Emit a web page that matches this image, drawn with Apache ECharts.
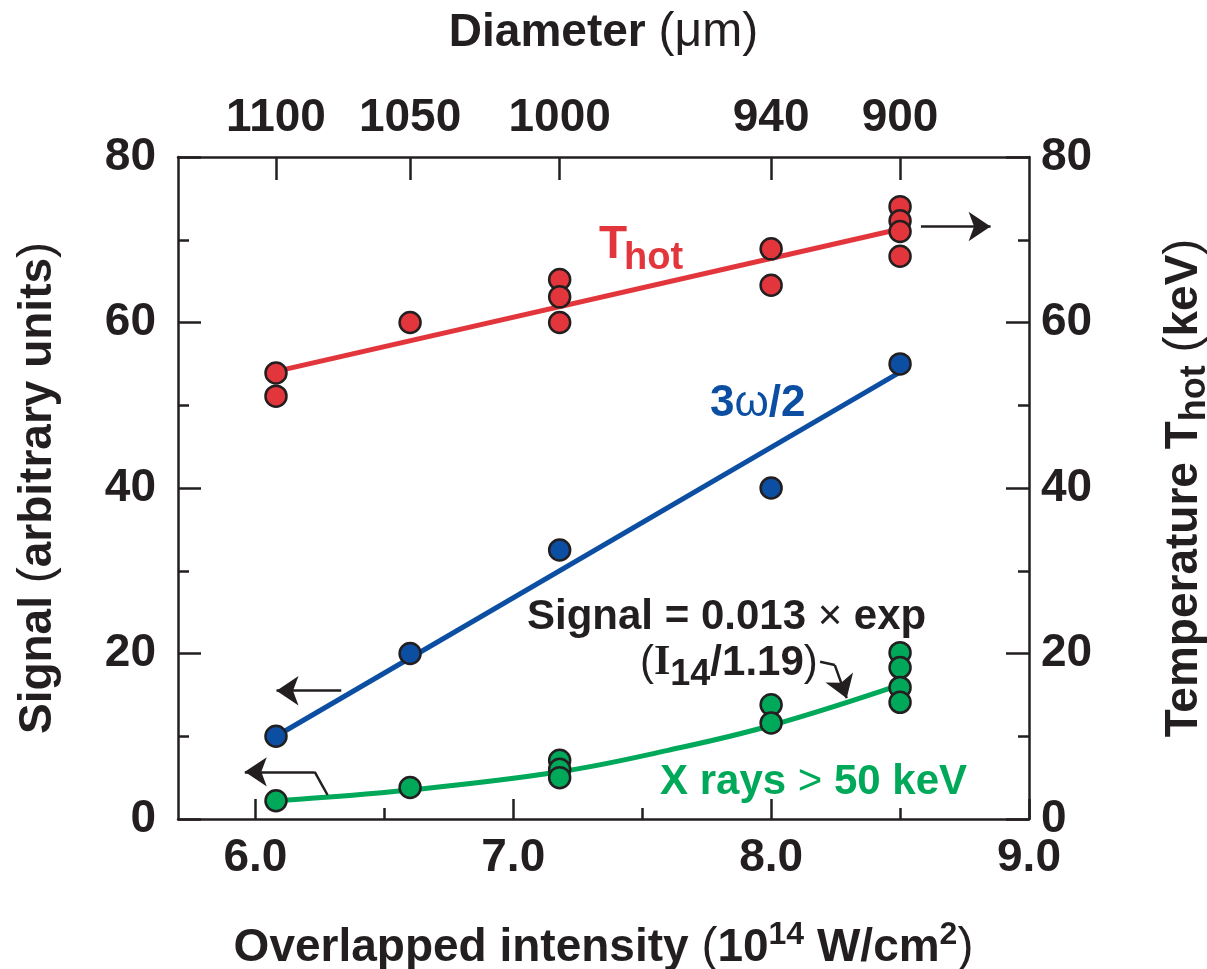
<!DOCTYPE html>
<html>
<head>
<meta charset="utf-8">
<script src="https://cdn.jsdelivr.net/npm/echarts@6/dist/echarts.min.js"></script>
<style>
  html, body { margin: 0; padding: 0; background: #fff; }
  #main { width: 1207px; height: 969px; }
</style>
</head>
<body>
<div id="main"></div>
<script>
// measured points
const thotX = [6.08, 6.08, 6.6, 7.18, 7.18, 7.18, 8.0, 8.0, 8.5, 8.5, 8.5, 8.5];
const thotY = [53.9, 51.1, 60.0, 65.2, 63.1, 60.0, 68.9, 64.5, 74.0, 72.3, 71.0, 68.0];
const omegaX = [6.08, 6.6, 7.18, 8.0, 8.5];
const omegaY = [10.0, 20.0, 32.5, 40.0, 55.0];
const xrayX = [6.08, 6.6, 7.18, 7.18, 7.18, 8.0, 8.0, 8.5, 8.5, 8.5, 8.5];
const xrayY = [2.2, 3.8, 7.1, 6.0, 5.0, 13.8, 11.6, 20.1, 18.3, 15.9, 14.1];

// fit lines
const thotFitX = [6.08, 8.5];
const thotFitY = [54.1, 71.3];
const omegaFitX = [6.08, 8.5];
const omegaFitY = [10.0, 54.0];
const xrayFitX = [6.08, 6.6, 7.18, 7.6, 8.0, 8.5];
const xrayFitY = [2.2, 3.5, 5.7, 8.3, 11.3, 16.2];

// axes
const majorX = [6, 7, 8, 9];
const minorX = [6.5, 7.5, 8.5];
const diamPos = [6.08, 6.6, 7.18, 8.0, 8.5];
const diamLabels = ['1100', '1050', '1000', '940', '900'];

const RED = '#e2363c', BLUE = '#0b4ea2', GREEN = '#00a85a', INK = '#231f20';
const FONT = 'Liberation Sans';

const pairs = (xs, ys) => xs.map((x, i) => [x, ys[i]]);

const chart = echarts.init(document.getElementById('main'));

const axisLine = { show: true, lineStyle: { color: INK, width: 2.5 } };
const tickStyle = { color: INK, width: 2.5 };
const labelStyle = { color: INK, fontFamily: FONT, fontWeight: 'bold', fontSize: 46 };
const nameRich = {
  b: { fontFamily: FONT, fontWeight: 'bold', fontSize: 46, color: INK },
  p: { fontFamily: FONT, fontWeight: 'normal', fontSize: 48, color: INK },
  up: { fontFamily: FONT, fontWeight: 'bold', fontSize: 32, color: INK, padding: [0, 0, 26, 0] },
  dn: { fontFamily: FONT, fontWeight: 'bold', fontSize: 36, color: INK, padding: [22, 0, 0, 0] }
};

function scatter(name, xs, ys, color, yIdx) {
  return {
    name: name, type: 'scatter', data: pairs(xs, ys), yAxisIndex: yIdx,
    symbol: 'circle', symbolSize: 21, z: 5,
    itemStyle: { color: color, borderColor: INK, borderWidth: 2.5, opacity: 1 }
  };
}

function arrowLine(data) {
  return {
    silent: true, animation: false,
    symbol: ['none', 'arrow'], symbolSize: 22,
    label: { show: false },
    lineStyle: { color: INK, width: 2.5, type: 'solid' },
    emphasis: { disabled: true },
    data: data
  };
}

const option = {
  animation: false,
  backgroundColor: '#fff',
  grid: { left: 178, right: 178, top: 157, bottom: 150, containLabel: false, outerBoundsMode: 'none' },
  xAxis: [
    {
      type: 'value', position: 'bottom', min: 5.7, max: 9.0,
      axisLine: axisLine, splitLine: { show: false },
      axisTick: { show: true, inside: true, length: 20, lineStyle: tickStyle, customValues: majorX },
      axisLabel: Object.assign({ margin: 16, customValues: majorX, formatter: v => v.toFixed(1) }, labelStyle),
      name: '{b|Overlapped intensity }{p|(}{b|10}{up|14}{b| W/cm}{up|2}{p|)}',
      nameLocation: 'middle', nameGap: 100,
      nameTextStyle: { rich: nameRich }
    },
    {
      type: 'value', position: 'bottom', min: 5.7, max: 9.0,
      axisLine: { show: false }, splitLine: { show: false },
      axisTick: { show: true, inside: true, length: 11, lineStyle: tickStyle, customValues: minorX },
      axisLabel: { show: false }
    },
    {
      type: 'value', position: 'top', min: 5.7, max: 9.0,
      axisLine: axisLine, splitLine: { show: false },
      axisTick: { show: true, inside: true, length: 23, lineStyle: tickStyle, customValues: diamPos },
      axisLabel: Object.assign({
        margin: 16, customValues: diamPos,
        formatter: v => diamLabels[diamPos.findIndex(p => Math.abs(p - v) < 1e-6)]
      }, labelStyle),
      name: '{b|Diameter }{p|(μm)}',
      nameLocation: 'middle', nameGap: 100,
      nameTextStyle: { rich: nameRich }
    }
  ],
  yAxis: [
    {
      type: 'value', position: 'left', min: 0, max: 80, interval: 20,
      axisLine: axisLine, splitLine: { show: false },
      axisTick: { show: true, inside: true, length: 23, lineStyle: tickStyle },
      minorTick: { show: true, splitNumber: 2, length: 11, lineStyle: tickStyle },
      minorSplitLine: { show: false },
      axisLabel: Object.assign({ margin: 22 }, labelStyle),
      name: '{b|Signal }{p|(}{b|arbitrary units}{p|)}',
      nameLocation: 'middle', nameGap: 116,
      nameTextStyle: { rich: nameRich }
    },
    {
      type: 'value', position: 'right', min: 0, max: 80, interval: 20,
      axisLine: axisLine, splitLine: { show: false },
      axisTick: { show: true, inside: true, length: 23, lineStyle: tickStyle },
      minorTick: { show: true, splitNumber: 2, length: 11, lineStyle: tickStyle },
      minorSplitLine: { show: false },
      axisLabel: Object.assign({ margin: 12 }, labelStyle),
      name: '{b|Temperature T}{dn|hot}{b| }{p|(}{b|keV}{p|)}',
      nameLocation: 'middle', nameGap: 126,
      nameTextStyle: { rich: nameRich }
    }
  ],
  series: [
    {
      name: 'Thot fit', type: 'line', data: pairs(thotFitX, thotFitY), yAxisIndex: 1,
      showSymbol: false, symbol: 'none', z: 3,
      lineStyle: { color: RED, width: 5 },
      markLine: arrowLine([
        [{ coord: [8.581, 71.6] }, { coord: [8.851, 71.6] }]
      ])
    },
    {
      name: '3ω/2 fit', type: 'line', data: pairs(omegaFitX, omegaFitY),
      showSymbol: false, symbol: 'none', z: 3,
      lineStyle: { color: BLUE, width: 5 },
      markLine: arrowLine([
        [{ coord: [6.333, 15.5] }, { coord: [6.082, 15.5] }]
      ])
    },
    {
      name: 'X-ray fit', type: 'line', data: pairs(xrayFitX, xrayFitY),
      smooth: 0.4,
      showSymbol: false, symbol: 'none', z: 3,
      lineStyle: { color: GREEN, width: 5 },
      markLine: arrowLine([
        [{ coord: [6.280, 2.9] }, { coord: [6.230, 5.7], symbol: 'none' }],
        [{ coord: [6.230, 5.7] }, { coord: [5.959, 5.7] }],
        [{ coord: [8.190, 19.0] }, { coord: [8.247, 18.6], symbol: 'none' }],
        [{ coord: [8.247, 18.6] }, { coord: [8.293, 14.6] }]
      ])
    },
    scatter('Thot', thotX, thotY, RED, 1),
    scatter('3ω/2', omegaX, omegaY, BLUE, 0),
    scatter('X rays > 50 keV', xrayX, xrayY, GREEN, 0)
  ],
  graphic: [
    { type: 'text', left: 599, top: 222, z: 10,
      style: { text: 'T', fill: RED, font: 'bold 46px "Liberation Sans"' } },
    { type: 'text', left: 624, top: 240, z: 10,
      style: { text: 'hot', fill: RED, font: 'bold 38px "Liberation Sans"' } },
    { type: 'text', left: 710, top: 382, z: 10,
      style: {
        text: '{b|3}{w|ω}{b|/2}', fill: BLUE,
        rich: {
          b: { fontFamily: FONT, fontWeight: 'bold', fontSize: 44, fill: BLUE },
          w: { fontFamily: FONT, fontWeight: 'normal', fontSize: 44, fill: BLUE }
        }
      } },
    { type: 'text', left: 527, top: 596, z: 10,
      style: {
        text: '{b|Signal = 0.013 }{x|×}{b| exp}',
        rich: {
          b: { fontFamily: FONT, fontWeight: 'bold', fontSize: 42, fill: INK },
          x: { fontFamily: FONT, fontWeight: 'normal', fontSize: 42, fill: INK }
        }
      } },
    { type: 'text', left: 640, top: 642, z: 10,
      style: {
        text: '{p|(}{i|I}{s|14}{b|/1.19}{p|)}',
        rich: {
          p: { fontFamily: FONT, fontWeight: 'normal', fontSize: 42, fill: INK },
          i: { fontFamily: 'Liberation Serif', fontWeight: 'bold', fontSize: 42, fill: INK },
          s: { fontFamily: FONT, fontWeight: 'bold', fontSize: 36, fill: INK, padding: [24, 0, 0, 0] },
          b: { fontFamily: FONT, fontWeight: 'bold', fontSize: 42, fill: INK }
        }
      } },
    { type: 'text', left: 660, top: 761, z: 10,
      style: {
        text: '{b|X rays }{g|>}{b| 50 keV}',
        rich: {
          b: { fontFamily: FONT, fontWeight: 'bold', fontSize: 42, fill: GREEN },
          g: { fontFamily: FONT, fontWeight: 'normal', fontSize: 42, fill: GREEN }
        }
      } }
  ]
};

chart.setOption(option);
</script>
</body>
</html>
